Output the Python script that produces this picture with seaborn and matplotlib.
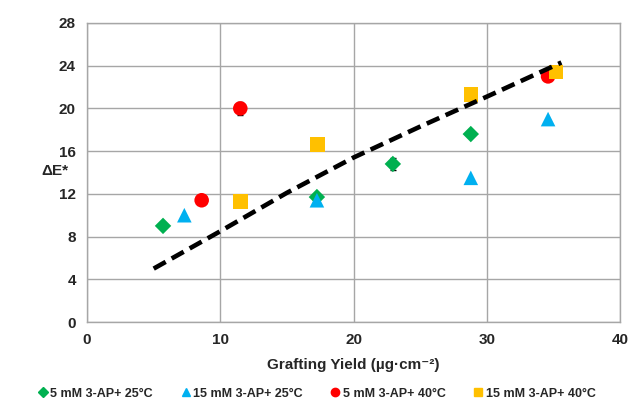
import matplotlib
matplotlib.use("Agg")
import matplotlib.pyplot as plt
import seaborn as sns
import pandas as pd
import numpy as np
from matplotlib.lines import Line2D

# Data
series_names = ["5 mM 3-AP+ 25°C", "15 mM 3-AP+ 25°C", "5 mM 3-AP+ 40°C", "15 mM 3-AP+ 40°C"]
x_5mM_25 = [5.7, 17.25, 22.95, 28.8]
y_5mM_25 = [9.0, 11.7, 14.8, 17.6]
err_5mM_25 = [0.0, 0.0, 0.6, 0.0]
x_15mM_25 = [7.3, 17.25, 28.8, 34.6]
y_15mM_25 = [10.0, 11.4, 13.5, 19.0]
err_15mM_25 = [0.0, 0.0, 0.0, 0.0]
x_5mM_40 = [8.6, 11.5, 34.6]
y_5mM_40 = [11.4, 20.0, 23.0]
err_5mM_40 = [0.0, 0.6, 0.0]
x_15mM_40 = [11.5, 17.3, 28.8, 35.2]
y_15mM_40 = [11.3, 16.6, 21.3, 23.4]
err_15mM_40 = [0.0, 0.0, 0.0, 0.0]
trend_x = [5.0, 10.0, 15.0, 20.0, 25.0, 30.0, 35.6]
trend_y = [5.0, 8.5, 12.1, 15.4, 18.3, 21.1, 24.3]

colors = ["#00B050", "#00B0F0", "#FF0000", "#FFC000"]
markers = ["D", "^", "o", "s"]
sizes = [70, 110, 110, 110]

frames = []
for name, xs, ys, es in zip(series_names,
                            [x_5mM_25, x_15mM_25, x_5mM_40, x_15mM_40],
                            [y_5mM_25, y_15mM_25, y_5mM_40, y_15mM_40],
                            [err_5mM_25, err_15mM_25, err_5mM_40, err_15mM_40]):
    frames.append(pd.DataFrame({"x": xs, "y": ys, "err": es, "series": name}))
df = pd.concat(frames, ignore_index=True)
trend = pd.DataFrame({"x": trend_x, "y": trend_y})

sns.set_theme(style="white")
plt.rcParams["font.family"] = ["Liberation Sans", "DejaVu Sans"]
plt.rcParams["font.weight"] = "bold"
plt.rcParams["mathtext.default"] = "bf"

fig = plt.figure(figsize=(6.31, 4.09), dpi=100)
ax = fig.add_axes([0.138, 0.2127, 0.8446, 0.7311])

for i, name in enumerate(series_names):
    sub = df[df["series"] == name]
    eb = sub[sub["err"] > 0]
    if len(eb):
        ax.errorbar(eb["x"], eb["y"], yerr=eb["err"], fmt="none", ecolor="black",
                    elinewidth=1, capsize=2, zorder=2 + i)
    sns.scatterplot(data=sub, x="x", y="y", marker=markers[i], color=colors[i],
                    s=sizes[i], edgecolor="none", linewidth=0, ax=ax,
                    zorder=3 + i, legend=False)

sns.lineplot(data=trend, x="x", y="y", color="black", linewidth=3.3,
             dashes=False, ax=ax, zorder=10)
ax.lines[-1].set_dashes([3.0, 1.5])
if ax.get_legend() is not None:
    ax.get_legend().remove()

ax.set_xlim(0, 40)
ax.set_ylim(0, 28)
ax.set_xticks([0, 10, 20, 30, 40])
ax.set_yticks(range(0, 29, 4))
ax.grid(True, color="#a6a6a6", linewidth=1)
for s in ax.spines.values():
    s.set_color("#a6a6a6")
    s.set_linewidth(1)
ax.tick_params(axis="both", length=0, labelsize=11, pad=8)
ax.set_xlabel("Grafting Yield (µg·cm⁻²)", fontsize=11, fontweight="bold", labelpad=8)
ax.set_ylabel("ΔE*", fontsize=11, fontweight="bold", rotation=0)
ax.yaxis.set_label_coords(-0.06, 0.48)

handles = [Line2D([], [], linestyle="none", marker=m, color=c, markersize=ms)
           for m, c, ms in zip(markers, colors, [5, 6, 6, 6])]
fig.legend(handles, series_names, loc="lower center", ncol=4, frameon=False,
           bbox_to_anchor=(0.5, -0.005), prop={"weight": "bold", "size": 9},
           handletextpad=0.0, columnspacing=2.0, handlelength=1.2)

fig.savefig("out.png", dpi=100, facecolor="white")
